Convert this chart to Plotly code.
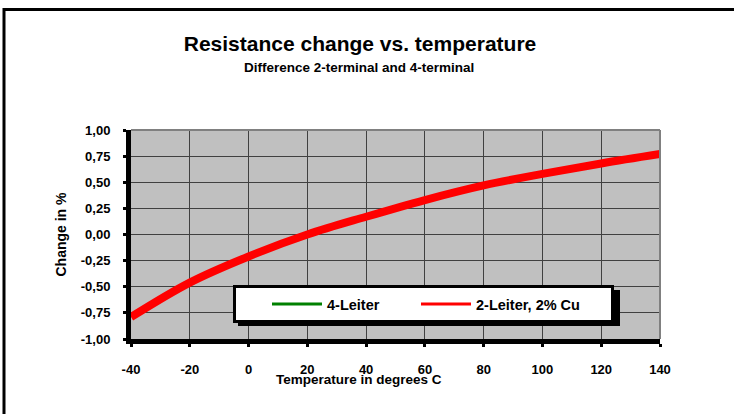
import plotly.graph_objects as go

# ---- data ----
temperature = [-40, -20, 0, 20, 40, 60, 80, 100, 120, 140]
leiter4 = [None] * len(temperature)          # not visible inside the plotted range
leiter2_cu = [-0.79, -0.46, -0.21, 0.00, 0.17, 0.33, 0.47, 0.58, 0.68, 0.77]

x_ticks = [-40, -20, 0, 20, 40, 60, 80, 100, 120, 140]
y_ticks = [1.00, 0.75, 0.50, 0.25, 0.00, -0.25, -0.50, -0.75, -1.00]
y_tick_labels = ["1,00", "0,75", "0,50", "0,25", "0,00", "-0,25", "-0,50", "-0,75", "-1,00"]

FONT = "Liberation Sans, Arial, sans-serif"
L, R, T, B = 131, 74, 130, 75
PW, PH = 734 - L - R, 414 - T - B


def px(x):
    return (x - L) / PW


def py(y):
    return (414 - B - y) / PH


fig = go.Figure()
# the real curves (legend drawn with thin sample lines as in the original)
fig.add_trace(go.Scatter(x=temperature, y=leiter2_cu, mode="lines", name="2-Leiter, 2% Cu",
                         line=dict(color="#FF0000", width=8, shape="spline"),
                         showlegend=False, legendgroup="2l"))
fig.add_trace(go.Scatter(x=temperature, y=leiter4, mode="lines", name="4-Leiter",
                         line=dict(color="#008000", width=3), legendgroup="4l",
                         legendwidth=50, legendrank=1))
fig.add_trace(go.Scatter(x=temperature, y=[None] * len(temperature), mode="lines",
                         name="2-Leiter, 2% Cu", line=dict(color="#FF0000", width=3),
                         legendgroup="2l", legendwidth=130, legendrank=2))

fig.update_layout(
    width=734, height=414,
    margin=dict(l=L, r=R, t=T, b=B),
    paper_bgcolor="white",
    plot_bgcolor="#C0C0C0",
    font=dict(family=FONT, color="black"),
    showlegend=True,
    title=dict(text="Resistance change vs. temperature",
               font=dict(family=FONT, size=21, weight="bold", color="black"),
               xref="paper", x=px(360), xanchor="center",
               yref="container", y=1 - 44 / 414, yanchor="middle"),
    legend=dict(orientation="h", x=px(233), xanchor="left", y=py(285), yanchor="top",
                bgcolor="white", bordercolor="black", borderwidth=3,
                font=dict(family=FONT, size=14.5, weight="bold", color="black"),
                itemwidth=50, indentation=34,
                itemclick=False, itemdoubleclick=False),
    xaxis=dict(range=[-40, 140], tickvals=x_ticks, ticktext=[str(v) for v in x_ticks],
               showgrid=True, gridcolor="#404040", gridwidth=1,
               showline=True, linecolor="black", linewidth=5,
               ticks="outside", ticklen=3, tickwidth=3, tickcolor="black",
               ticklabelstandoff=11,
               tickfont=dict(family=FONT, size=13, weight="bold", color="black"),
               zeroline=False, fixedrange=True),
    yaxis=dict(range=[-1.0, 1.0], tickvals=y_ticks, ticktext=y_tick_labels,
               showgrid=True, gridcolor="#404040", gridwidth=1,
               showline=True, linecolor="black", linewidth=5,
               ticks="outside", ticklen=3, tickwidth=3, tickcolor="black",
               ticklabelstandoff=10,
               tickfont=dict(family=FONT, size=13, weight="bold", color="black"),
               zeroline=False, fixedrange=True),
    annotations=[
        dict(text="Difference 2-terminal and 4-terminal", xref="paper", yref="paper",
             x=px(359), y=py(67), xanchor="center", yanchor="middle",
             showarrow=False, font=dict(family=FONT, size=13.5, weight="bold", color="black")),
        dict(text="Temperature in degrees C", xref="paper", yref="paper",
             x=px(359), y=py(379), xanchor="center", yanchor="middle",
             showarrow=False, font=dict(family=FONT, size=13.5, weight="bold", color="black")),
        dict(text="Change in %", xref="paper", yref="paper",
             x=px(60), y=0.5, xanchor="center", yanchor="middle", textangle=-90,
             showarrow=False, font=dict(family=FONT, size=14, weight="bold", color="black")),
    ],
    shapes=[
        # outer chart frame
        dict(type="rect", xref="paper", yref="paper",
             x0=px(4), x1=px(760), y0=py(440), y1=py(9.5),
             line=dict(color="black", width=3), fillcolor="rgba(0,0,0,0)", layer="above"),
        # grey top / right edges of plot area
        dict(type="line", xref="paper", yref="paper", x0=0, x1=1, y0=1, y1=1,
             line=dict(color="#808080", width=2), layer="above"),
        dict(type="line", xref="paper", yref="paper", x0=1, x1=1, y0=0, y1=1,
             line=dict(color="#808080", width=2), layer="above"),
        # legend drop shadow
        dict(type="rect", xref="paper", yref="paper",
             x0=px(238), x1=px(620), y0=py(326), y1=py(290),
             line=dict(width=0), fillcolor="black", layer="above"),
    ],
)

fig.write_html("out.html", post_script="document.body.style.margin='0';",
               config={"displayModeBar": False, "staticPlot": True})
